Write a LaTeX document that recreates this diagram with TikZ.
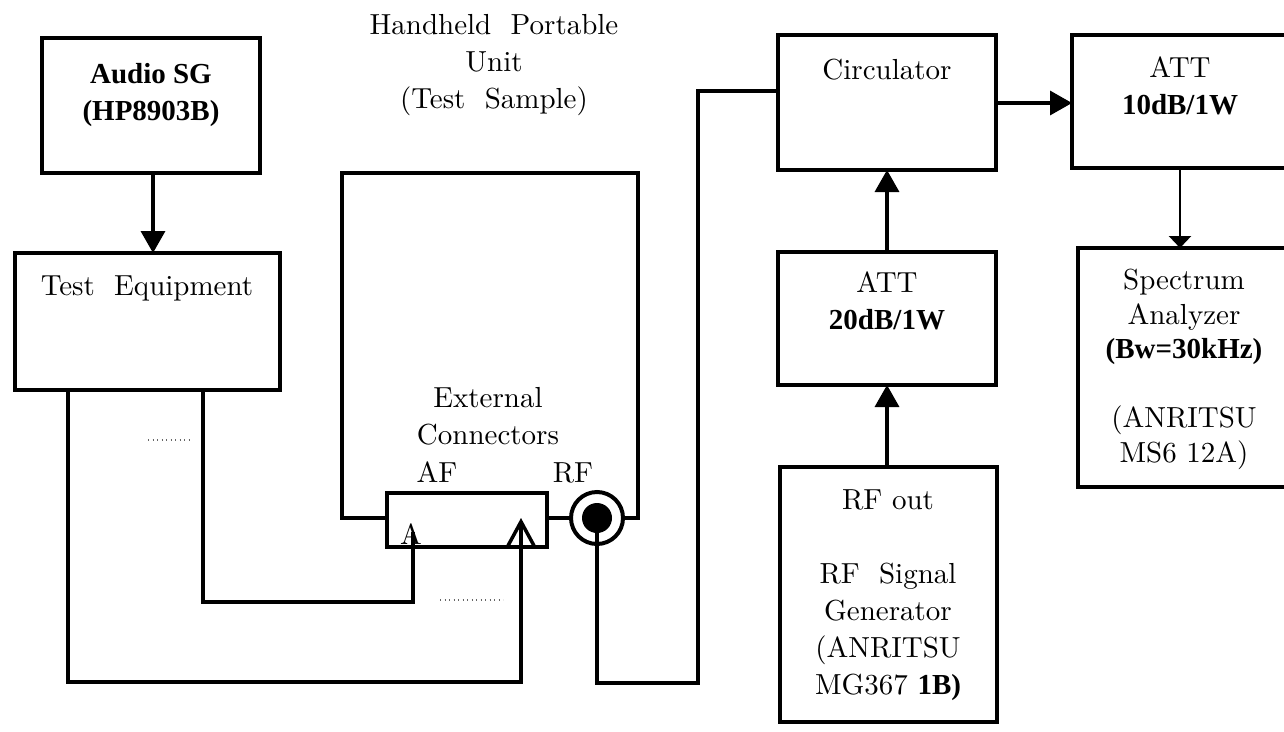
\documentclass[tikz,border=0pt]{standalone}
\usepackage{fontspec}
\setmainfont{lmroman10-regular}[Extension=.otf,BoldFont=lmroman10-bold]
\newfontfamily\bdfam{Liberation Serif}
\usetikzlibrary{arrows.meta}
\newcommand{\bdf}{\bdfam\fontsize{29}{37}\selectfont\bfseries}
\begin{document}
\begin{tikzpicture}[x=1pt,y=-1pt,
  box/.style={draw,line width=4.5pt,rectangle,inner sep=0pt,outer sep=0pt,anchor=north west},
  lbl/.style={inner sep=0pt,align=center,anchor=north,font=\fontsize{29}{37}\selectfont},
  wire/.style={line width=4pt},
  arr/.style={line width=3.5pt,-{Triangle[width=24pt,length=22pt]}},
  dotline/.style={line width=1.5pt,black!60,dash pattern=on 1.2pt off 3.3pt}]
\useasboundingbox (0,0) rectangle (1284,731);
% boxes
\node[box,minimum width=218pt,minimum height=135pt] (asg) at (42,38) {};
\node[box,minimum width=265pt,minimum height=137pt] (te) at (15,253) {};
\node[box,minimum width=218pt,minimum height=135pt] (circ) at (778,35) {};
\node[box,minimum width=220pt,minimum height=133pt] (att10) at (1072,35) {};
\node[box,minimum width=218pt,minimum height=133pt] (att20) at (778,252) {};
\node[box,minimum width=214pt,minimum height=239pt] (spec) at (1078,248) {};
\node[box,minimum width=217pt,minimum height=255pt] (rfgen) at (780,467) {};
\node[box,minimum width=160pt,minimum height=54pt] (conn) at (387,493) {};
\node[draw,circle,line width=4pt,minimum size=52pt,inner sep=0pt] (rfc) at (597,518) {};
\node[fill,circle,minimum size=30pt,inner sep=0pt] (rfi) at (597,518) {};
% texts
\node[lbl] (asgT) at (151,63) {\bdf Audio SG\\\bdf (HP8903B)};
\node[lbl] (teT) at (147,276) {Test~~Equipment};
\node[lbl] (hhT) at (494,14) {Handheld~~Portable\\Unit\\(Test~~Sample)};
\node[lbl] (extT) at (488,387) {External\\Connectors};
\node[lbl] (afT) at (437,462) {AF};
\node[lbl] (rfT) at (573,462) {RF};
\node[lbl] (aT) at (411,524) {A};
\node[lbl] (circT) at (887,59) {Circulator};
\node[lbl] (att10T) at (1180,57) {ATT\\\bdf 10dB/1W};
\node[lbl] (att20T) at (887,272) {ATT\\\bdf 20dB/1W};
\node[lbl,font=\fontsize{29}{34.5}\selectfont] (specT) at (1184,269) {Spectrum\\Analyzer\\\bdf (Bw=30kHz)\\[0pt]\\(ANRITSU\\MS6~12A)};
\node[lbl] (rfgT) at (888,489) {RF~out\\[0pt]\\RF~~Signal\\Generator\\(ANRITSU\\MG367~{\bdf 1B)}};
% coordinates
\coordinate (hh1) at (342,173);
\coordinate (hh2) at (638,518);
\coordinate (te1) at (203,390);
\coordinate (te2) at (68,390);
\coordinate (j1) at (203,602);
\coordinate (atip) at (413,532);
\coordinate (j2) at (68,682);
\coordinate (ctip) at (521,518);
\coordinate (j3) at (698,683);
\coordinate (cin) at (778,91);
% handheld unit outline
\draw[line width=4.5pt] (conn.west |- rfc.west) -| (hh1) -| (hh2) -- (rfc.east);
\draw[wire] (conn.east |- rfc.west) -- (rfc.west);
% arrows
\draw[arr] (asg.south -| 153,0) -- (te.north -| 153,0);
\draw[arr] (att20.north -| 887,0) -- (circ.south -| 887,0);
\draw[arr] (rfgen.north -| 887,0) -- (att20.south -| 887,0);
\draw[arr] (circ.east |- 0,103) -- (att10.west |- 0,103);
\draw[line width=2.5pt,-{Triangle[width=22pt,length=12pt]}] (att10.south -| 1180,0) -- (spec.north -| 1180,0);
% wires
\draw[wire] (te1) -- (j1) -| (atip);
\draw[wire,-{Straight Barb[width=26pt,length=24pt,line width=3.5pt]}] (te2) -- (j2) -| (ctip);
\draw[wire] (rfi.center) |- (j3) |- (cin);
% dotted
\draw[dotline] (148,440) -- (190,440);
\draw[dotline] (440,600) -- (503,600);
\end{tikzpicture}
\end{document}
